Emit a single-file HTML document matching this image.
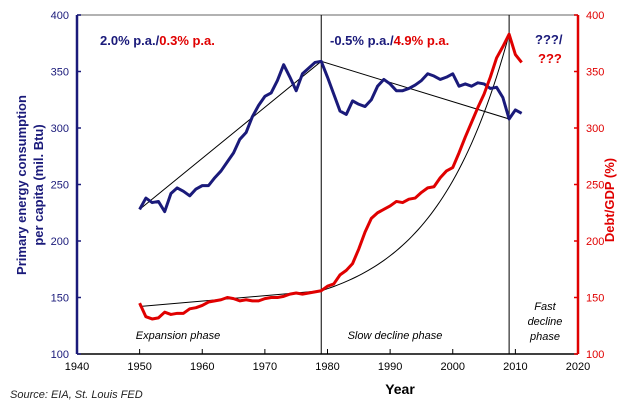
<!DOCTYPE html>
<html><head><meta charset="utf-8"><style>
html,body{margin:0;padding:0;background:#fff;}
svg{display:block;font-family:"Liberation Sans",Arial,sans-serif;}
</style></head><body>
<svg id="chart" width="640" height="407" viewBox="0 0 640 407">
<g id="axes"></g><g id="marks"></g><g id="labels"></g>
</svg>
<script>
const years = [];
for (let y = 1950; y <= 2011; y++) years.push(y);
const energy = [228,238,234,235,226,242,247,244,240,246,249,249,256,262,270,278,290,296,310,320,328,331,342,356,345,333,348,353,358,359,345,330,315,312,324,321,319,325,337,343,339,333,333,335,338,342,348,346,343,345,348,337,339,337,340,339,335,336,327,308,316,313];
const debt = [145,133,131,132,137,135,136,136,140,141,143,146,147,148,150,149,147,148,147,147,149,150,150,151,153,154,153,154,155,156,160,162,170,174,180,193,208,220,225,228,231,235,234,237,238,243,247,248,256,262,265,278,292,305,318,330,345,362,372,383,365,358];
const xTicks = [1940,1950,1960,1970,1980,1990,2000,2010,2020];
const yTicks = [100,150,200,250,300,350,400];
const phaseYears = [1979,2009];

const NS = "http://www.w3.org/2000/svg";
const X0 = 77, X1 = 578, Y0 = 354, Y1 = 15;
const xs = v => X0 + (v - 1940) / 80 * (X1 - X0);
const ys = v => Y0 - (v - 100) / 300 * (Y0 - Y1);
function mk(tag, attrs, parent, text) {
  const e = document.createElementNS(NS, tag);
  for (const k in attrs) e.setAttribute(k, attrs[k]);
  if (text !== undefined) e.textContent = text;
  parent.appendChild(e);
  return e;
}
const axes = document.getElementById('axes');
const marks = document.getElementById('marks');
const labels = document.getElementById('labels');

// top border
let t = mk('line', {x1:X0, y1:Y1, x2:X1, y2:Y1, stroke:'#999', 'stroke-width':1.5}, axes);


// x axis
let xa = mk('line', {x1:X0, y1:Y0, x2:X1, y2:Y0, stroke:'#000', 'stroke-width':1.5}, axes);


xTicks.forEach(v => {
  mk('line', {x1:xs(v), y1:Y0, x2:xs(v), y2:Y0-5, stroke:'#000'}, axes);
  const l = mk('text', {x:xs(v), y:Y0+16, 'text-anchor':'middle', 'font-size':11, fill:'#000'}, labels, v);
  
  
});
// left axis
let la = mk('line', {x1:X0, y1:Y1, x2:X0, y2:Y0, stroke:'#1a1a7a', 'stroke-width':2.5}, axes);


let ra = mk('line', {x1:X1, y1:Y1, x2:X1, y2:Y0, stroke:'#e00000', 'stroke-width':2.5}, axes);


yTicks.forEach(v => {
  mk('line', {x1:X0, y1:ys(v), x2:X0+4, y2:ys(v), stroke:'#1a1a7a', 'stroke-width':1.5}, axes);
  mk('line', {x1:X1, y1:ys(v), x2:X1-4, y2:ys(v), stroke:'#e00000', 'stroke-width':1.5}, axes);
  const l = mk('text', {x:X0-8, y:ys(v)+4, 'text-anchor':'end', 'font-size':11, fill:'#1a1a7a'}, labels, v);
  
  
  const r = mk('text', {x:X1+8, y:ys(v)+4, 'text-anchor':'start', 'font-size':11, fill:'#e00000'}, labels, v);
  
  
});
// phase lines
phaseYears.forEach(v => {
  const l = mk('line', {x1:xs(v), y1:Y1, x2:xs(v), y2:Y0, stroke:'#000', 'stroke-width':1}, axes);
  
  
});
// trend lines
const iOf = y => years.indexOf(y);
let bt = mk('polyline', {points:[1950,1979,2009].map(y=>xs(y)+','+ys(energy[iOf(y)])).join(' '), fill:'none', stroke:'#000', 'stroke-width':1}, marks);


let rt = mk('line', {x1:xs(1950), y1:ys(142), x2:xs(1979), y2:ys(debt[iOf(1979)]), stroke:'#000', 'stroke-width':1}, marks);


const d0 = debt[iOf(1979)], d1 = debt[iOf(2009)], off = 135;
const k = Math.log((d1-off)/(d0-off))/30;
let pts = [];
for (let y = 1979; y <= 2009; y += 0.5) pts.push(xs(y)+','+ys(off+(d0-off)*Math.exp(k*(y-1979))));
let ec = mk('polyline', {points:pts.join(' '), fill:'none', stroke:'#000', 'stroke-width':1}, marks);


// series
let es = mk('polyline', {points:years.map((y,i)=>xs(y)+','+ys(energy[i])).join(' '), fill:'none', stroke:'#1a1a7a', 'stroke-width':3, 'stroke-linejoin':'round'}, marks);


let ds = mk('polyline', {points:years.map((y,i)=>xs(y)+','+ys(debt[i])).join(' '), fill:'none', stroke:'#e00000', 'stroke-width':3, 'stroke-linejoin':'round'}, marks);


</script>
<script>
const L = document.getElementById('labels');
L.insertAdjacentHTML('beforeend', `
<text x="100" y="45" font-size="13" font-weight="bold" fill="#1a1a7a">2.0% p.a./<tspan fill="#e00000">0.3% p.a.</tspan></text>
<text x="330" y="45" font-size="13" font-weight="bold" fill="#1a1a7a">-0.5% p.a./<tspan fill="#e00000">4.9% p.a.</tspan></text>
<text x="535" y="44" font-size="13" font-weight="bold" fill="#1a1a7a">???/</text>
<text x="538" y="63" font-size="13" font-weight="bold" fill="#e00000">???</text>
<text x="178" y="339" font-size="11" font-style="italic" text-anchor="middle">Expansion phase</text>
<text x="395" y="339" font-size="11" font-style="italic" text-anchor="middle">Slow decline phase</text>
<text x="545" y="310" font-size="11" font-style="italic" text-anchor="middle"><tspan x="545">Fast</tspan><tspan x="545" dy="15">decline</tspan><tspan x="545" dy="15">phase</tspan></text>
<text x="400" y="394" font-size="14" font-weight="bold" text-anchor="middle">Year</text>
<text x="10" y="398" font-size="11" font-style="italic" fill="#222">Source: EIA, St. Louis FED</text>
<text transform="translate(26,185) rotate(-90)" font-size="13" font-weight="bold" fill="#1a1a7a" text-anchor="middle"><tspan x="0" dy="0">Primary energy consumption</tspan><tspan x="0" dy="17">per capita (mil. Btu)</tspan></text>
<text transform="translate(614,200) rotate(-90)" font-size="13" font-weight="bold" fill="#e00000" text-anchor="middle">Debt/GDP (%)</text>
`);
</script>
</body></html>
